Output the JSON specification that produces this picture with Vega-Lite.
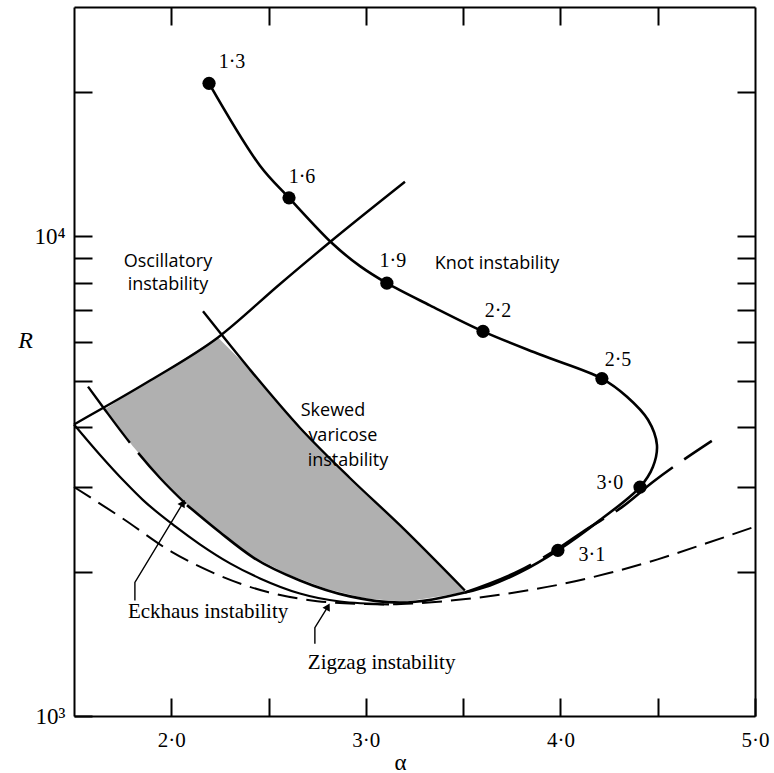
{
  "$schema": "https://vega.github.io/schema/vega-lite/v6.json",
  "width": 681,
  "height": 709,
  "autosize": {"type": "none"},
  "padding": {"left": 74, "top": 7, "right": 19, "bottom": 57},
  "background": "white",
  "config": {
    "view": {"stroke": null},
    "axis": {"labelFont": "Liberation Serif", "labelFontSize": 21, "labelColor": "black",
      "titleFont": "Liberation Serif", "titleColor": "black", "titleFontWeight": "normal", "titleFontSize": 22,
      "tickColor": "black", "tickWidth": 2, "tickSize": -18, "domainColor": "black", "domainWidth": 2,
      "grid": false, "labelOverlap": false, "labelFlush": false}
  },
  "datasets": {
    "neutral": [
      {"a": 1.5, "R": 3000}, {"a": 1.75, "R": 2580}, {"a": 2.0, "R": 2200}, {"a": 2.25, "R": 1960},
      {"a": 2.5, "R": 1810}, {"a": 2.75, "R": 1735}, {"a": 3.0, "R": 1711}, {"a": 3.117, "R": 1708},
      {"a": 3.25, "R": 1716}, {"a": 3.5, "R": 1750}, {"a": 3.75, "R": 1805}, {"a": 4.0, "R": 1880},
      {"a": 4.25, "R": 1985}, {"a": 4.5, "R": 2120}, {"a": 4.75, "R": 2290}, {"a": 5.0, "R": 2480}
    ],
    "curveB": [
      {"a": 1.5, "R": 4050}, {"a": 1.634, "R": 3499}, {"a": 1.762, "R": 3072}, {"a": 1.855, "R": 2817},
      {"a": 2.019, "R": 2486}, {"a": 2.147, "R": 2279}, {"a": 2.302, "R": 2080}, {"a": 2.456, "R": 1935},
      {"a": 2.661, "R": 1800}, {"a": 2.867, "R": 1732}, {"a": 3.119, "R": 1708}
    ],
    "eckLdash": [
      {"a": 1.572, "R": 4856}, {"a": 1.659, "R": 4346}, {"a": 1.788, "R": 3707}, {"a": 1.942, "R": 3132},
      {"a": 2.081, "R": 2750}
    ],
    "eckLsolid": [
      {"a": 2.081, "R": 2750}, {"a": 2.25, "R": 2414}, {"a": 2.42, "R": 2141}, {"a": 2.661, "R": 1916},
      {"a": 2.918, "R": 1775}, {"a": 3.175, "R": 1723}, {"a": 3.509, "R": 1808}
    ],
    "skewed": [
      {"a": 2.163, "R": 6967}, {"a": 2.404, "R": 5270}, {"a": 2.661, "R": 3986}, {"a": 2.918, "R": 3132},
      {"a": 3.175, "R": 2498}, {"a": 3.509, "R": 1826}
    ],
    "osc": [
      {"a": 1.5, "R": 4050}, {"a": 1.891, "R": 4998}, {"a": 2.24, "R": 6147}, {"a": 2.559, "R": 7945},
      {"a": 2.816, "R": 9715}, {"a": 3.201, "R": 12970}
    ],
    "stipple": [
      {"a": 1.66, "R": 4360, "R2": 4360}, {"a": 1.8, "R": 4748, "R2": 3658}, {"a": 1.95, "R": 5176, "R2": 3109},
      {"a": 2.1, "R": 5657, "R2": 2710}, {"a": 2.24, "R": 6147, "R2": 2433}, {"a": 2.4, "R": 5290, "R2": 2171},
      {"a": 2.6, "R": 4258, "R2": 1971}, {"a": 2.8, "R": 3498, "R2": 1838}, {"a": 3.0, "R": 2914, "R2": 1758},
      {"a": 3.2, "R": 2440, "R2": 1730}, {"a": 3.4, "R": 2022, "R2": 1781}, {"a": 3.509, "R": 1815, "R2": 1815}
    ],
    "knot": [
      {"i": 1, "a": 2.194, "R": 20800}, {"i": 2, "a": 2.456, "R": 14010}, {"i": 3, "a": 2.605, "R": 12010},
      {"i": 4, "a": 2.831, "R": 9622}, {"i": 5, "a": 2.97, "R": 8654}, {"i": 6, "a": 3.108, "R": 7976},
      {"i": 7, "a": 3.329, "R": 7171}, {"i": 8, "a": 3.602, "R": 6329}, {"i": 9, "a": 3.895, "R": 5663},
      {"i": 10, "a": 4.213, "R": 5047}, {"i": 11, "a": 4.342, "R": 4626}, {"i": 12, "a": 4.45, "R": 4142},
      {"i": 13, "a": 4.496, "R": 3671}, {"i": 14, "a": 4.475, "R": 3302}, {"i": 15, "a": 4.409, "R": 2999},
      {"i": 16, "a": 4.203, "R": 2559}, {"i": 17, "a": 3.987, "R": 2214}, {"i": 18, "a": 3.792, "R": 1992},
      {"i": 19, "a": 3.638, "R": 1871}, {"i": 20, "a": 3.509, "R": 1808}
    ],
    "knotPts": [
      {"a": 2.194, "R": 20800}, {"a": 2.605, "R": 12010}, {"a": 3.108, "R": 7976}, {"a": 3.602, "R": 6329},
      {"a": 4.213, "R": 5047}, {"a": 4.409, "R": 2999}, {"a": 3.987, "R": 2214}
    ],
    "eckR": [
      {"a": 4.778, "R": 3743}, {"a": 4.475, "R": 3072}, {"a": 4.316, "R": 2724}, {"a": 4.126, "R": 2438},
      {"a": 3.997, "R": 2246}, {"a": 3.792, "R": 2010}, {"a": 3.509, "R": 1808}
    ],
    "arrowE": [
      {"i": 1, "a": 1.813, "R": 1740}, {"i": 2, "a": 1.813, "R": 1898}, {"i": 3, "a": 2.06, "R": 2777}
    ],
    "arrowZ": [
      {"i": 1, "a": 2.738, "R": 1414}, {"i": 2, "a": 2.738, "R": 1528}, {"i": 3, "a": 2.805, "R": 1690}
    ],
    "ptLabels": [
      {"t": "1·3", "a": 2.312, "R": 23010}, {"t": "1·6", "a": 2.672, "R": 13290}, {"t": "1·9", "a": 3.139, "R": 8865},
      {"t": "2·2", "a": 3.679, "R": 6967}, {"t": "2·5", "a": 4.296, "R": 5530}, {"t": "3·0", "a": 4.254, "R": 3058},
      {"t": "3·1", "a": 4.162, "R": 2161}
    ],
    "serifLeft": [
      {"t": "Eckhaus instability", "a": 1.777, "R": 1643},
      {"t": "Zigzag instability", "a": 2.702, "R": 1291}
    ],
    "sansLabels": [
      {"t": "Oscillatory", "a": 1.983, "R": 8822}, {"t": "instability", "a": 1.983, "R": 7898},
      {"t": "Knot instability", "a": 3.674, "R": 8737},
      {"t": "Skewed", "a": 2.831, "R": 4325}, {"t": "varicose", "a": 2.882, "R": 3835},
      {"t": "instability", "a": 2.908, "R": 3400}
    ]
  },
  "resolve": {"axis": {"x": "independent", "y": "independent"}},
  "layer": [
    {
      "data": {"name": "stipple"},
      "mark": {"type": "area", "color": "#b0b0b0", "interpolate": "linear"},
      "encoding": {
        "x": {"field": "a", "type": "quantitative",
          "scale": {"domain": [1.5, 5], "nice": false, "zero": false},
          "axis": {"orient": "bottom", "values": [2, 2.5, 3, 3.5, 4, 4.5, 5],
            "labelExpr": "datum.value % 1 == 0 ? replace(format(datum.value, '.1f'), '.', '·') : ''",
            "tickSize": -18, "labelPadding": 31, "labelFontSize": 21, "labelFont": "Liberation Serif",
            "title": "α", "titleFontSize": 23, "titleX": 326, "titleY": 46, "titleBaseline": "middle"}},
        "y": {"field": "R", "type": "quantitative",
          "scale": {"type": "log", "domain": [1000, 30000], "nice": false},
          "axis": {"orient": "left", "values": [1000, 2000, 3000, 4000, 5000, 6000, 7000, 8000, 9000, 10000, 20000],
            "labelExpr": "datum.value == 1000 ? '10³' : datum.value == 10000 ? '10⁴' : ''",
            "tickSize": -18, "labelPadding": 27, "labelFontSize": 23, "labelFont": "Liberation Serif",
            "title": "R", "titleFontSize": 24, "titleFontStyle": "italic", "titleAngle": 0, "titleX": -49, "titleY": 333,
            "titleAlign": "center", "titleBaseline": "middle"}},
        "y2": {"field": "R2"}
      }
    },
    {
      "data": {"name": "neutral"},
      "mark": {"type": "line", "color": "black", "strokeWidth": 2, "strokeDash": [20, 9], "interpolate": "monotone"},
      "encoding": {
        "x": {"field": "a", "type": "quantitative",
          "axis": {"orient": "top", "values": [2, 2.5, 3, 3.5, 4, 4.5], "labels": false, "tickSize": -18, "title": null}},
        "y": {"field": "R", "type": "quantitative",
          "axis": {"orient": "right", "values": [2000, 3000, 4000, 5000, 6000, 7000, 8000, 9000, 10000, 20000],
            "labels": false, "tickSize": -18, "title": null}}
      }
    },
    {
      "data": {"name": "curveB"},
      "mark": {"type": "line", "color": "black", "strokeWidth": 2.2, "interpolate": "monotone"},
      "encoding": {
        "x": {"field": "a", "type": "quantitative", "axis": null},
        "y": {"field": "R", "type": "quantitative", "axis": null}
      }
    },
    {
      "data": {"name": "eckLdash"},
      "mark": {"type": "line", "color": "black", "strokeWidth": 2.4, "strokeDash": [70, 13], "interpolate": "monotone"},
      "encoding": {
        "x": {"field": "a", "type": "quantitative", "axis": null},
        "y": {"field": "R", "type": "quantitative", "axis": null}
      }
    },
    {
      "data": {"name": "eckLsolid"},
      "mark": {"type": "line", "color": "black", "strokeWidth": 2.6, "interpolate": "monotone"},
      "encoding": {
        "x": {"field": "a", "type": "quantitative", "axis": null},
        "y": {"field": "R", "type": "quantitative", "axis": null}
      }
    },
    {
      "data": {"name": "skewed"},
      "mark": {"type": "line", "color": "black", "strokeWidth": 2.4, "interpolate": "monotone"},
      "encoding": {
        "x": {"field": "a", "type": "quantitative", "axis": null},
        "y": {"field": "R", "type": "quantitative", "axis": null}
      }
    },
    {
      "data": {"name": "osc"},
      "mark": {"type": "line", "color": "black", "strokeWidth": 2.4, "interpolate": "monotone"},
      "encoding": {
        "x": {"field": "a", "type": "quantitative", "axis": null},
        "y": {"field": "R", "type": "quantitative", "axis": null}
      }
    },
    {
      "data": {"name": "eckR"},
      "mark": {"type": "line", "color": "black", "strokeWidth": 2.6, "strokeDash": [72, 14], "interpolate": "monotone"},
      "encoding": {
        "x": {"field": "a", "type": "quantitative", "axis": null},
        "y": {"field": "R", "type": "quantitative", "axis": null}
      }
    },
    {
      "data": {"name": "knot"},
      "mark": {"type": "line", "color": "black", "strokeWidth": 2.6, "interpolate": "catmull-rom"},
      "encoding": {
        "x": {"field": "a", "type": "quantitative", "axis": null},
        "y": {"field": "R", "type": "quantitative", "axis": null},
        "order": {"field": "i", "type": "quantitative"}
      }
    },
    {
      "data": {"name": "knotPts"},
      "mark": {"type": "point", "shape": "circle", "filled": true, "color": "black", "size": 175, "opacity": 1},
      "encoding": {
        "x": {"field": "a", "type": "quantitative", "axis": null},
        "y": {"field": "R", "type": "quantitative", "axis": null}
      }
    },
    {
      "data": {"name": "arrowE"},
      "mark": {"type": "line", "color": "black", "strokeWidth": 1.4},
      "encoding": {
        "x": {"field": "a", "type": "quantitative", "axis": null},
        "y": {"field": "R", "type": "quantitative", "axis": null},
        "order": {"field": "i", "type": "quantitative"}
      }
    },
    {
      "data": {"name": "arrowE"},
      "transform": [{"filter": "datum.i == 3"}],
      "mark": {"type": "point", "shape": "triangle-up", "filled": true, "color": "black", "size": 70, "angle": 31, "opacity": 1},
      "encoding": {
        "x": {"field": "a", "type": "quantitative", "axis": null},
        "y": {"field": "R", "type": "quantitative", "axis": null}
      }
    },
    {
      "data": {"name": "arrowZ"},
      "mark": {"type": "line", "color": "black", "strokeWidth": 1.4},
      "encoding": {
        "x": {"field": "a", "type": "quantitative", "axis": null},
        "y": {"field": "R", "type": "quantitative", "axis": null},
        "order": {"field": "i", "type": "quantitative"}
      }
    },
    {
      "data": {"name": "arrowZ"},
      "transform": [{"filter": "datum.i == 3"}],
      "mark": {"type": "point", "shape": "triangle-up", "filled": true, "color": "black", "size": 70, "angle": 29, "opacity": 1},
      "encoding": {
        "x": {"field": "a", "type": "quantitative", "axis": null},
        "y": {"field": "R", "type": "quantitative", "axis": null}
      }
    },
    {
      "data": {"name": "ptLabels"},
      "mark": {"type": "text", "font": "Liberation Serif", "fontSize": 20, "color": "black", "align": "center", "baseline": "middle"},
      "encoding": {
        "x": {"field": "a", "type": "quantitative", "axis": null},
        "y": {"field": "R", "type": "quantitative", "axis": null},
        "text": {"field": "t"}
      }
    },
    {
      "data": {"name": "serifLeft"},
      "mark": {"type": "text", "font": "Liberation Serif", "fontSize": 21, "color": "black", "align": "left", "baseline": "middle"},
      "encoding": {
        "x": {"field": "a", "type": "quantitative", "axis": null},
        "y": {"field": "R", "type": "quantitative", "axis": null},
        "text": {"field": "t"}
      }
    },
    {
      "data": {"name": "sansLabels"},
      "mark": {"type": "text", "font": "Open Sans", "fontSize": 18, "color": "black", "align": "center", "baseline": "middle"},
      "encoding": {
        "x": {"field": "a", "type": "quantitative", "axis": null},
        "y": {"field": "R", "type": "quantitative", "axis": null},
        "text": {"field": "t"}
      }
    }
  ]
}
